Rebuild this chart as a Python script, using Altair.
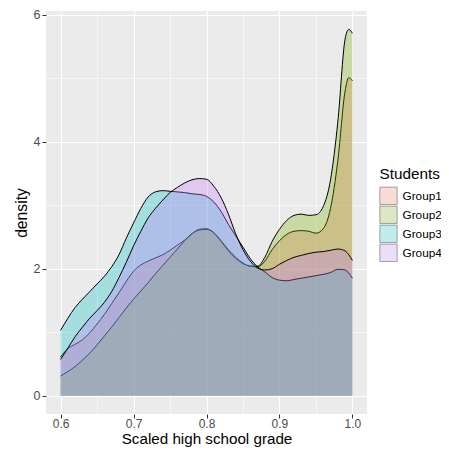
import altair as alt
import pandas as pd

# x positions where the density curves were read
grade = [0.60, 0.61, 0.62, 0.63, 0.64, 0.65, 0.66, 0.67, 0.68, 0.69,
         0.70, 0.71, 0.72, 0.73, 0.74, 0.75, 0.76, 0.77, 0.78, 0.79,
         0.80, 0.81, 0.82, 0.83, 0.84, 0.85, 0.86, 0.87, 0.88, 0.89,
         0.90, 0.91, 0.92, 0.93, 0.94, 0.95, 0.96, 0.97, 0.98, 0.99,
         0.995, 1.00]

group1 = [0.61, 0.74, 0.81, 0.88, 0.99, 1.13, 1.28, 1.45, 1.62, 1.80,
          1.96, 2.06, 2.12, 2.17, 2.22, 2.29, 2.37, 2.45, 2.55, 2.62,
          2.63, 2.56, 2.43, 2.28, 2.16, 2.08, 2.04, 2.03, 2.12, 2.30,
          2.44, 2.54, 2.59, 2.60, 2.59, 2.56, 2.63, 2.95, 3.70, 4.80,
          5.01, 4.96]
group2 = [0.31, 0.38, 0.46, 0.56, 0.67, 0.80, 0.94, 1.08, 1.23, 1.38,
          1.52, 1.65, 1.78, 1.92, 2.05, 2.18, 2.31, 2.44, 2.55, 2.61,
          2.62, 2.57, 2.44, 2.30, 2.18, 2.09, 2.04, 2.04, 2.18, 2.43,
          2.62, 2.76, 2.84, 2.86, 2.84, 2.85, 2.98, 3.40, 4.31, 5.62,
          5.77, 5.71]
group3 = [1.03, 1.22, 1.39, 1.52, 1.64, 1.76, 1.88, 2.03, 2.22, 2.48,
          2.72, 2.95, 3.13, 3.21, 3.23, 3.22, 3.21, 3.20, 3.18, 3.17,
          3.14, 3.05, 2.90, 2.70, 2.52, 2.34, 2.16, 2.03, 1.95, 1.86,
          1.82, 1.81, 1.83, 1.85, 1.87, 1.89, 1.91, 1.94, 1.99, 1.98,
          1.93, 1.85]
group4 = [0.57, 0.75, 0.93, 1.08, 1.22, 1.34, 1.47, 1.64, 1.86, 2.10,
          2.36, 2.59, 2.80, 2.95, 3.08, 3.20, 3.28, 3.35, 3.40, 3.42,
          3.41, 3.30, 3.12, 2.86, 2.55, 2.30, 2.12, 2.01, 1.98, 2.00,
          2.07, 2.13, 2.18, 2.21, 2.24, 2.26, 2.27, 2.29, 2.31, 2.28,
          2.22, 2.13]

groups = ["Group1", "Group2", "Group3", "Group4"]
colors = ["#F8766D", "#7CAE00", "#00BFC4", "#C77CFF"]
# legend key colours: the fills above at 30% over the light key background
key_colors = ["#F4CDCA", "#CFDEA9", "#A9E3E4", "#E5CFF6"]

x_ticks = [0.6, 0.65, 0.7, 0.75, 0.8, 0.85, 0.9, 0.95, 1.0]
y_ticks = [0, 1, 2, 3, 4, 5, 6]

rows = []
for g, vals in zip(groups, [group1, group2, group3, group4]):
    for xv, dv in zip(grade, vals):
        rows.append({"grade": xv, "density": dv, "group": g})
df = pd.DataFrame(rows)

FONT = "Liberation Sans"
minor_x = "round(datum.value * 100) % 10 != 0"
minor_y = "datum.value % 2 != 0"

x_enc = alt.X(
    "grade:Q",
    scale=alt.Scale(domain=[0.58, 1.02], nice=False, zero=False),
    axis=alt.Axis(
        values=x_ticks,
        title="Scaled high school grade",
        labelExpr="round(datum.value * 100) % 10 == 0 ? format(datum.value, '.1f') : ''",
        gridWidth={"condition": {"test": minor_x, "value": 0.55}, "value": 1.1},
        tickOpacity={"condition": {"test": minor_x, "value": 0}, "value": 1},
        labelPadding=0,
        titlePadding=2,
        labelFontSize=12,
        titleFontSize=15.2,
    ),
)
y_enc = alt.Y(
    "density:Q",
    scale=alt.Scale(domain=[-0.289, 6.06], nice=False, zero=False),
    axis=alt.Axis(
        values=y_ticks,
        title="density",
        labelExpr="datum.value % 2 == 0 ? format(datum.value, 'd') : ''",
        gridWidth={"condition": {"test": minor_y, "value": 0.55}, "value": 1.1},
        tickOpacity={"condition": {"test": minor_y, "value": 0}, "value": 1},
        labelPadding=2,
        titlePadding=4,
    ),
)

layers = []
for g in groups:
    # colour domain comes from the data (Group1..Group4 sorted), range = ggplot hues
    area = alt.Chart().mark_area(interpolate="monotone", fillOpacity=0.3).encode(
        x=x_enc, y=y_enc, y2=alt.datum(0),
        color=alt.Color("group:N", scale=alt.Scale(range=colors), legend=None),
    ).transform_filter(alt.datum.group == g)
    line = alt.Chart().mark_line(interpolate="monotone", color="black", strokeWidth=1).encode(
        x=x_enc, y=y_enc
    ).transform_filter(alt.datum.group == g)
    layers += [area, line]

# legend carrier: zero-size squares whose fill scale holds the key colours
legend_layer = alt.Chart().mark_square(size=0).encode(
    x=x_enc, y=y_enc,
    fill=alt.Fill(
        "group:N",
        scale=alt.Scale(domain=groups, range=key_colors),
        legend=alt.Legend(
            title="Students",
            orient="none",
            legendX=333.5,
            legendY=155.5,
            symbolType="square",
            symbolSize=300,
            symbolStrokeColor="black",
            symbolStrokeWidth=0.5,
            rowPadding=-4.4,
            labelOffset=5,
            titlePadding=5,
            padding=0,
        ),
    ),
)
layers.append(legend_layer)

chart = alt.layer(*layers, data=df).properties(
    width=321,
    height=403,
    autosize=alt.AutoSizeParams(type="none"),
    padding={"left": 38, "top": 3, "right": 74, "bottom": 33},
).configure_view(
    fill="#EBEBEB", strokeWidth=0
).configure_axis(
    domain=False,
    gridColor="white",
    labelFont=FONT,
    labelFontSize=12.5,
    labelColor="#4D4D4D",
    tickColor="#333333",
    tickSize=4,
    tickWidth=1,
    titleFont=FONT,
    titleFontSize=15.7,
    titleFontWeight="normal",
    titleColor="black",
).configure_legend(
    titleFont=FONT,
    titleFontSize=15.3,
    titleFontWeight="normal",
    titleColor="black",
    labelFont=FONT,
    labelFontSize=11.8,
    labelColor="black",
)

chart.save("out.html", embed_options={"renderer": "svg", "actions": False})
